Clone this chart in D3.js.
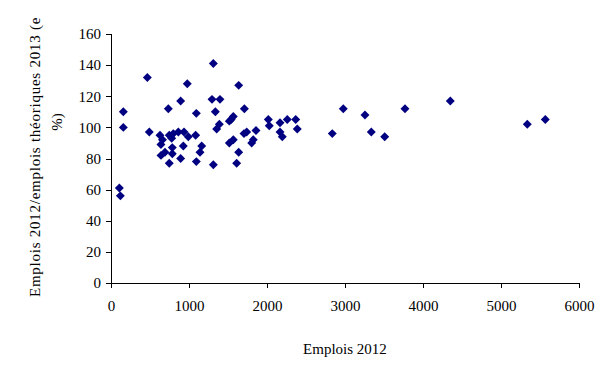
<!DOCTYPE html>
<html>
<head>
<meta charset="utf-8">
<script src="https://cdn.jsdelivr.net/npm/d3@7"></script>
<style>
  body { margin: 0; background: #fff; }
  svg { display: block; }
  .axis text { font-family: "Liberation Serif", "Times New Roman", serif; font-size: 15px; fill: #000; }
  .axis path, .axis line { stroke: #000; stroke-width: 1px; shape-rendering: crispEdges; }
  .title { font-family: "Liberation Serif", "Times New Roman", serif; font-size: 15px; fill: #000; }
</style>
</head>
<body>
<script>
// Emplois 2012 (x) vs emplois 2012 / emplois théoriques 2013 en % (y)
var emplois2012 = [107, 120, 158, 158, 466, 491, 628, 660, 640, 641, 692, 735, 747, 778,
  799, 863, 786, 786, 747, 893, 893, 927, 936, 978, 991, 1085, 1094, 1094, 1141, 1163,
  1295, 1312, 1312, 1338, 1355, 1389, 1397, 1517, 1568, 1540, 1517, 1568, 1611, 1637, 1637,
  1705, 1740, 1710, 1804, 1824, 1859, 2017, 2029, 2167, 2167, 2196, 2260, 2368, 2388,
  2837, 2978, 3256, 3337, 3509, 3769, 4350, 5337, 5568];
var ratio = [61, 56, 110, 100, 132, 97, 95, 92, 89, 82, 84, 112, 95, 93,
  96, 97, 87, 83, 77, 117, 80, 88, 97, 128, 94, 95, 109, 78, 84, 88,
  118, 141, 76, 110, 99, 102, 118, 104, 107, 105, 90, 92, 77, 84, 127,
  96, 97, 112, 90, 92, 98, 105, 101, 103, 97, 94, 105, 105, 99,
  96, 112, 108, 97, 94, 112, 117, 102, 105];
var xTicks = [0, 1000, 2000, 3000, 4000, 5000, 6000];
var yTicks = [0, 20, 40, 60, 80, 100, 120, 140, 160];

var width = 616, height = 376;
var svg = d3.select("body").append("svg")
  .attr("width", width)
  .attr("height", height);

var x = d3.scaleLinear().domain([0, 6000]).range([111, 579]);
var y = d3.scaleLinear().domain([0, 160]).range([283, 34]);

// axes
var xAxisG = svg.append("g")
  .attr("class", "axis")
  .attr("transform", "translate(0,283)")
  .call(d3.axisBottom(x).tickValues(xTicks).tickFormat(d3.format("d"))
    .tickSize(5).tickSizeOuter(0).tickPadding(12));

var yAxisG = svg.append("g")
  .attr("class", "axis")
  .attr("transform", "translate(111,0)")
  .call(d3.axisLeft(y).tickValues(yTicks).tickSize(5).tickSizeOuter(0).tickPadding(5));

// axis lines stop at the end ticks
xAxisG.select(".domain").attr("d", "M111,0.5H579");
yAxisG.select(".domain").attr("d", "M0.5,283V34");

// diamond marker
var diamond = {
  draw: function(ctx, size) {
    var r = Math.sqrt(size / 2);
    ctx.moveTo(0, -r);
    ctx.lineTo(r, 0);
    ctx.lineTo(0, r);
    ctx.lineTo(-r, 0);
    ctx.closePath();
  }
};

svg.append("g").selectAll("path")
  .data(emplois2012.map(function(d, i) { return [d, ratio[i]]; }))
  .join("path")
  .attr("transform", function(d) { return "translate(" + x(d[0]) + "," + y(d[1]) + ")"; })
  .attr("d", d3.symbol().type(diamond).size(40))
  .attr("fill", "#000080");

// titles
svg.append("text")
  .attr("class", "title")
  .attr("x", 345)
  .attr("y", 354)
  .attr("text-anchor", "middle")
  .text("Emplois 2012");

// the y title runs past the top of the chart and gets cut off
svg.append("clipPath").attr("id", "ytclip")
  .append("rect").attr("x", 0).attr("y", 17).attr("width", 110).attr("height", 340);

var yt = svg.append("g").attr("clip-path", "url(#ytclip)");
yt.append("text")
  .attr("class", "title")
  .attr("transform", "translate(40,297) rotate(-90)")
  .attr("text-anchor", "start")
  .style("letter-spacing", "0.75px")
  .text("Emplois 2012/emplois théoriques 2013 (en");
yt.append("text")
  .attr("class", "title")
  .attr("transform", "translate(62,122) rotate(-90)")
  .attr("text-anchor", "middle")
  .text("%)");
</script>
</body>
</html>
